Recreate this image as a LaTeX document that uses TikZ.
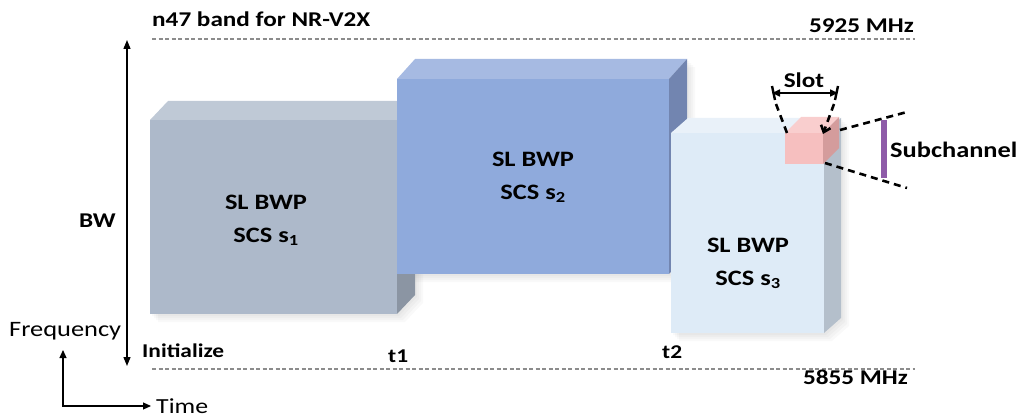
\documentclass[tikz,border=0pt]{standalone}
\usepackage{fontspec}
\setmainfont{Carlito}[FakeStretch=1.2]
\usetikzlibrary{arrows.meta}
\definecolor{aF}{HTML}{ADB9CA}\definecolor{aT}{HTML}{BFC9D6}\definecolor{aS}{HTML}{8B95A3}
\definecolor{bF}{HTML}{8FAADC}\definecolor{bT}{HTML}{A6BAE2}\definecolor{bS}{HTML}{7285B0}
\definecolor{cF}{HTML}{DEEBF7}\definecolor{cT}{HTML}{E9F1F9}\definecolor{cS}{HTML}{B4BFCB}
\definecolor{pF}{HTML}{F6BFBF}\definecolor{pT}{HTML}{F9CECE}\definecolor{pS}{HTML}{D49C9C}
\definecolor{purp}{HTML}{8E5BA8}
\definecolor{dgray}{HTML}{8C8C8C}
\tikzset{
  band/.style={draw=dgray,line width=1.2pt,dash pattern=on 4pt off 2.5pt},
  lbl/.style={font=\bfseries\fontsize{21}{24}\selectfont,inner sep=0pt},
  boxtxt/.style={font=\bfseries\fontsize{22}{33}\selectfont,align=center,inner sep=0pt},
  ann/.style={draw=black,line width=2.6pt,dash pattern=on 7pt off 5pt},
  shad/.style={fill=black,opacity=0.025}
}
\begin{document}
\begin{tikzpicture}[x=1pt,y=-1pt]
\useasboundingbox (0,0) rectangle (1021,417);
% band lines
\coordinate (tl) at (152,39); \coordinate (tr) at (915,39);
\coordinate (bl) at (152,369); \coordinate (br) at (915,369);
\draw[band] (tl) -- (tr);
\draw[band] (bl) -- (br);
\node[lbl,anchor=base west] (band) at (152,27) {n47 band for NR-V2X};
\node[lbl,anchor=base east] (fhi) at (914,33) {5925 MHz};
\node[lbl,anchor=base east] (flo) at (908,384) {5855 MHz};
% BW arrow
\coordinate (bwt) at (127,40); \coordinate (bwb) at (127,366);
\draw[line width=1.3pt,{Triangle[width=7pt,length=9pt]}-{Triangle[width=7pt,length=9pt]}] (bwt) -- (bwb);
\node[lbl,anchor=base east] (bw) at (116,228) {BW};
% axes
\coordinate (o) at (63,406);
\coordinate (fy) at (63,350);
\coordinate (tx) at (151,406);
\draw[line width=1.2pt,{Triangle[width=7pt,length=8pt]}-{Triangle[width=7pt,length=8pt]}] (fy) -- (o) -- (tx);
\node[anchor=base west,inner sep=0pt,font=\fontsize{22}{24}\selectfont] (freq) at (9,336) {Frequency};
\node[anchor=base west,inner sep=0pt,font=\fontsize{21.5}{24}\selectfont] (time) at (156,413) {Time};
\node[lbl,font=\bfseries\fontsize{19.5}{22}\selectfont,anchor=base west] (init) at (142,357) {Initialize};
\node[lbl,font=\bfseries\fontsize{19.5}{22}\selectfont,anchor=base west] (t1) at (388,362) {t1};
\node[lbl,font=\bfseries\fontsize{19.5}{22}\selectfont,anchor=base west] (t2) at (662,358) {t2};
% shadows
\foreach \d in {2,4,6,8}{
\fill[shad] (150+\d,120+\d) -- (415+\d,101+\d) -- (415+\d,295+\d) -- (397+\d,314+\d) -- (150+\d,314+\d) -- cycle;
\fill[shad] (397+\d,79+\d) -- (687+\d,59+\d) -- (687+\d,254+\d) -- (669+\d,274+\d) -- (397+\d,274+\d) -- cycle;
\fill[shad] (671+\d,133+\d) -- (841+\d,118+\d) -- (841+\d,318+\d) -- (824+\d,333+\d) -- (671+\d,333+\d) -- cycle;
}
% box 1
\fill[aT] (150,120) -- (168,101) -- (415,101) -- (397,120) -- cycle;
\fill[aS] (397,120) -- (415,101) -- (415,295) -- (397,314) -- cycle;
\fill[aF] (150,120) rectangle (397,314);
\node[boxtxt] (b1) at (266,220) {SL BWP\\SCS s\textsubscript{1}};
% box 2
\fill[bT] (397,79) -- (415,59) -- (687,59) -- (669,79) -- cycle;
\fill[bS] (669,79) -- (687,59) -- (687,254) -- (669,274) -- cycle;
\fill[bF] (397,79) rectangle (669,274);
\node[boxtxt] (b2) at (533,177) {SL BWP\\SCS s\textsubscript{2}};
% box 3
\fill[cT] (671,133) -- (688,118) -- (841,118) -- (824,133) -- cycle;
\fill[cS] (824,133) -- (841,118) -- (841,318) -- (824,333) -- cycle;
\fill[cF] (671,133) rectangle (824,333);
\node[boxtxt] (b3) at (748,263) {SL BWP\\SCS s\textsubscript{3}};
% pink cube
\fill[pT] (785,133) -- (801,117) -- (839,117) -- (823,133) -- cycle;
\fill[pS] (823,133) -- (839,117) -- (839,148) -- (823,164) -- cycle;
\fill[pF] (785,133) rectangle (823,164);
\coordinate (cubetl) at (787,133);
\coordinate (cubetr) at (823,134);
\coordinate (cubebk) at (840,130);
\coordinate (cubebr) at (825,163);
% slot
\coordinate (sl) at (772,93); \coordinate (sr) at (838,93);
\draw[line width=1.6pt,{Triangle[width=7pt,length=8pt]}-{Triangle[width=7pt,length=8pt]}] (sl) -- (sr);
\draw[line width=2.4pt] (772,86) -- (775,100);
\draw[line width=2.4pt] (838,86) -- (835,100);
\node[lbl,anchor=base] (slot) at (804,88) {Slot};
\draw[ann] (776,104) -- (cubetl);
\draw[ann,-{Straight Barb[length=6pt,width=10pt]}] (834,104) -- (cubetr);
% subchannel
\draw[ann] (cubebk) -- (907,112);
\draw[ann] (cubebr) -- (907,188);
\fill[purp] (881,120) rectangle (887,178);
\node[lbl,font=\bfseries\fontsize{22}{24}\selectfont,anchor=base west] (sub) at (890,158) {Subchannel};
\end{tikzpicture}
\end{document}
